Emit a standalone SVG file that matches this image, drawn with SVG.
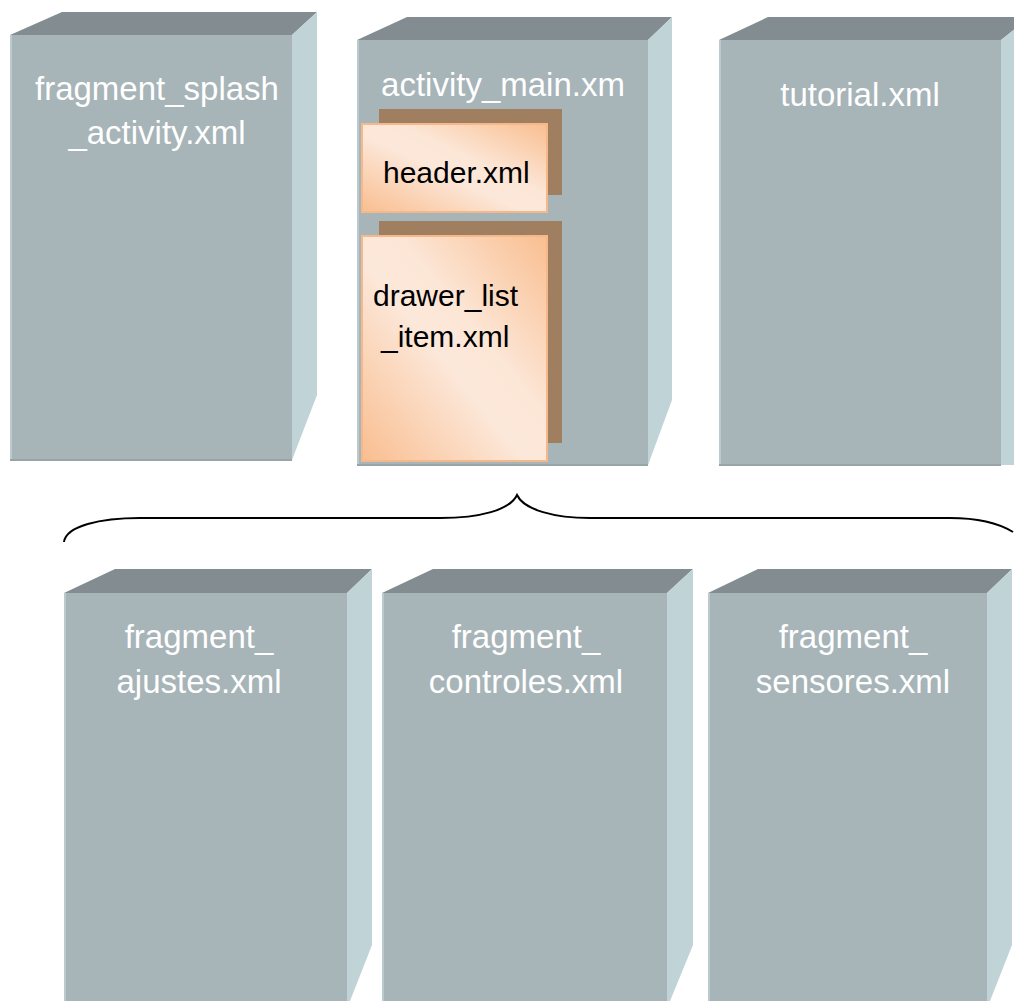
<svg xmlns="http://www.w3.org/2000/svg" width="1014" height="1001" viewBox="0 0 1014 1001">
<style>
.front{fill:#A7B4B8}
.top{fill:#838D91}
.side{fill:#C0D3D7}
.edge{stroke:#BACACE;stroke-width:2}
.bedge{stroke:#97A4A8;stroke-width:2}
.lbl{font-family:"Liberation Sans",Arial,sans-serif;font-size:33px;fill:#FFFFFF;text-anchor:middle}
.blk{font-family:"Liberation Sans",Arial,sans-serif;font-size:30px;fill:#000000}
.shadow{fill:#A07E60}
.card{fill:url(#og);stroke:#F5B88A;stroke-width:2}
.brace{fill:none;stroke:#000;stroke-width:2}
</style>
<defs>
<linearGradient id="og" x1="0" y1="1" x2="1" y2="0">
<stop offset="0" stop-color="#F9BE90"/>
<stop offset="0.45" stop-color="#FCE8DA"/>
<stop offset="0.6" stop-color="#FCE6D6"/>
<stop offset="1" stop-color="#F9BE90"/>
</linearGradient>
</defs>
<rect width="1014" height="1001" fill="#FFFFFF"/>

<g id="fragment_splash_activity">
<polygon class="top" points="10,35 62,12 317,12 292,35"/>
<polygon class="side" points="292,35 317,12 317,395 292,460"/>
<rect class="front" x="10" y="35" width="282" height="425"/>
<line class="edge" x1="11" y1="35" x2="11" y2="460"/>
<line class="bedge" x1="10" y1="460" x2="292" y2="460"/>
<text class="lbl" x="157" y="100">fragment_splash</text>
<text class="lbl" x="157" y="144">_activity.xml</text>
</g>

<g id="activity_main">
<polygon class="top" points="357,40 407,17 672,17 648,40"/>
<polygon class="side" points="648,40 672,17 672,400 648,465"/>
<rect class="front" x="357" y="40" width="291" height="425"/>
<line class="edge" x1="358" y1="40" x2="358" y2="465"/>
<line class="bedge" x1="357" y1="465" x2="648" y2="465"/>
<text class="lbl" x="503" y="96">activity_main.xm</text>
</g>

<g id="header">
<rect class="shadow" x="379" y="109" width="183" height="86"/>
<rect class="card" x="362" y="124" width="185" height="88"/>
<text class="blk" x="383" y="183">header.xml</text>
</g>

<g id="drawer_list_item">
<rect class="shadow" x="379" y="221" width="183" height="222"/>
<rect class="card" x="362" y="236" width="185" height="225"/>
<text class="blk" x="373" y="306">drawer_list</text>
<text class="blk" x="381" y="347">_item.xml</text>
</g>

<g id="tutorial">
<polygon class="top" points="719,40 768,17 1030,17 1001,40"/>
<polygon class="side" points="1001,40 1030,17 1030,465 1001,465"/>
<rect class="front" x="719" y="40" width="282" height="425"/>
<line class="edge" x1="720" y1="40" x2="720" y2="465"/>
<line class="bedge" x1="719" y1="465" x2="1001" y2="465"/>
<text class="lbl" x="860" y="106">tutorial.xml</text>
</g>

<g id="connectors">
<path class="brace" d="M64,542 C66,526 100,518 140,518 L440,518 C480,518 510,510 517,495 C524,510 555,518 590,518 L950,518 C980,518 1000,524 1013,532"/>
</g>

<g id="fragment_ajustes">
<polygon class="top" points="64,593 115,569 372,569 347,593"/>
<polygon class="side" points="347,593 372,569 372,945 350,1001 347,1001"/>
<rect class="front" x="64" y="593" width="283" height="410"/>
<line class="edge" x1="65" y1="593" x2="65" y2="1001"/>
<text class="lbl" x="199" y="648">fragment_</text>
<text class="lbl" x="199" y="693">ajustes.xml</text>
</g>

<g id="fragment_controles">
<polygon class="top" points="382,593 433,569 693,569 667,593"/>
<polygon class="side" points="667,593 693,569 693,945 670,1001 667,1001"/>
<rect class="front" x="382" y="593" width="285" height="410"/>
<line class="edge" x1="383" y1="593" x2="383" y2="1001"/>
<text class="lbl" x="526" y="648">fragment_</text>
<text class="lbl" x="526" y="693">controles.xml</text>
</g>

<g id="fragment_sensores">
<polygon class="top" points="708,593 758,569 1012,569 987,593"/>
<polygon class="side" points="987,593 1012,569 1012,945 990,1001 987,1001"/>
<rect class="front" x="708" y="593" width="279" height="410"/>
<line class="edge" x1="709" y1="593" x2="709" y2="1001"/>
<text class="lbl" x="853" y="648">fragment_</text>
<text class="lbl" x="853" y="693">sensores.xml</text>
</g>
</svg>
